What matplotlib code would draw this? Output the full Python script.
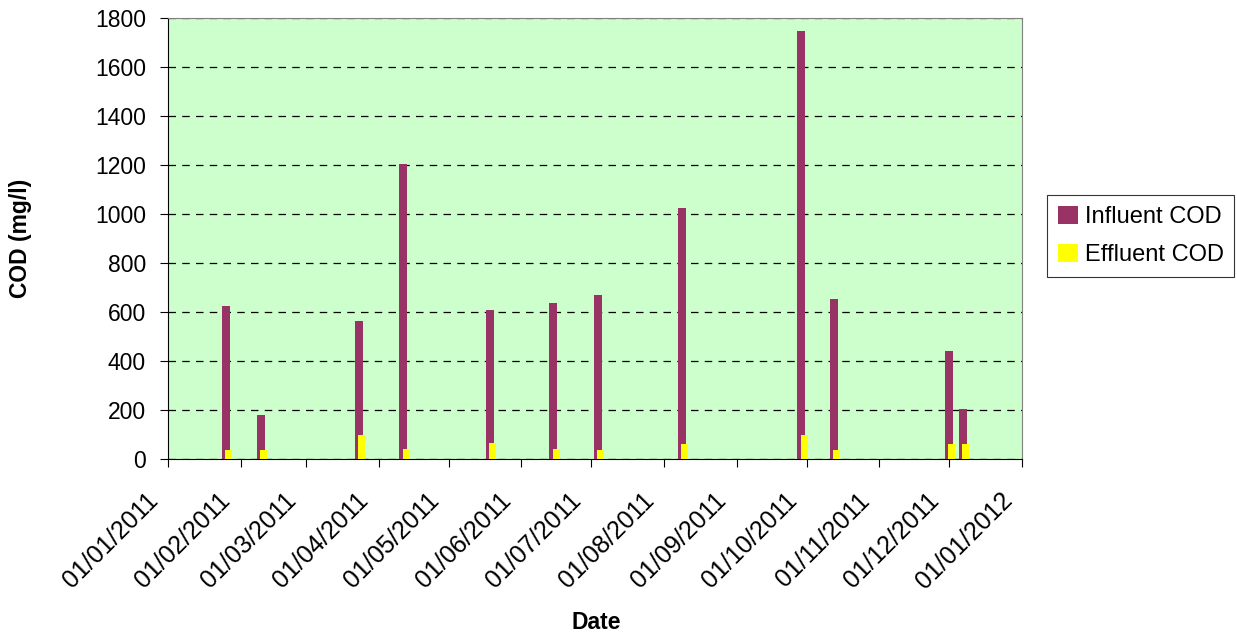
import datetime as dt

import matplotlib
matplotlib.use('Agg')
import matplotlib.pyplot as plt
import matplotlib.dates as mdates
from matplotlib.ticker import MultipleLocator
from matplotlib.transforms import ScaledTranslation

plt.rcParams['font.family'] = ['Liberation Sans', 'DejaVu Sans']

# sampling dates and COD values (mg/l)
dates = ['2011-01-26', '2011-02-10', '2011-03-24', '2011-04-12',
         '2011-05-19', '2011-06-15', '2011-07-04', '2011-08-09',
         '2011-09-29', '2011-10-13', '2011-12-01', '2011-12-07']
influent = [625, 180, 562, 1205, 610, 635, 668, 1025, 1745, 652, 440, 203]
effluent = [35, 35, 100, 42, 65, 42, 35, 60, 100, 35, 60, 60]

x_start = '2011-01-01'
x_end = '2012-01-01'


def main():
    d = [dt.datetime.strptime(s, '%Y-%m-%d') for s in dates]
    x = mdates.date2num(d)

    fig = plt.figure(figsize=(12.37, 6.36), dpi=100)
    ax = fig.add_axes([0.1358, 0.2783, 0.6904, 0.6934])
    ax.set_facecolor('#CCFFCC')

    ax.bar(x - 0.4, influent, width=3.4, color='#993366', label='Influent COD', zorder=3)
    ax.bar(x + 0.9, effluent, width=3.0, color='#FFFF00', label='Effluent COD', zorder=4)

    ax.set_xlim(mdates.datestr2num(x_start), mdates.datestr2num(x_end))
    ax.set_ylim(0, 1800)
    ax.yaxis.set_major_locator(MultipleLocator(200))
    ax.xaxis.set_major_locator(mdates.MonthLocator())
    ax.xaxis.set_major_formatter(mdates.DateFormatter('%d/%m/%Y'))

    ax.grid(axis='y', color='black', linestyle=(0, (6, 5)), linewidth=0.9, zorder=1)
    ax.tick_params(axis='both', direction='out', length=6, width=0.8, colors='black')
    ax.tick_params(axis='y', labelsize=16.5, pad=10)
    ax.tick_params(axis='x', labelsize=18, pad=15)
    shift = ScaledTranslation(-16 / 72, 0, fig.dpi_scale_trans)
    for lbl in ax.get_xticklabels():
        lbl.set_rotation(45)
        lbl.set_ha('right')
        lbl.set_rotation_mode('anchor')
        lbl.set_transform(lbl.get_transform() + shift)

    for side in ('top', 'right'):
        ax.spines[side].set_color('#808080')
    for side in ('left', 'bottom'):
        ax.spines[side].set_color('black')

    ax.set_ylabel('COD (mg/l)', fontsize=16.5, fontweight='bold')
    ax.yaxis.set_label_coords(-0.159, 0.5)
    ax.set_xlabel('Date', fontsize=16.5, fontweight='bold')
    ax.xaxis.set_label_coords(0.502, -0.345)

    leg = ax.legend(loc='upper left', bbox_to_anchor=(0.8464, 0.6934),
                    bbox_transform=fig.transFigure, borderaxespad=0, fontsize=17,
                    frameon=True, fancybox=False, edgecolor='black', handlelength=0.85,
                    handleheight=0.85, handletextpad=0.3, borderpad=0.45, labelspacing=0.65)
    leg.get_frame().set_linewidth(0.8)

    fig.savefig('out.png', dpi=100)


if __name__ == '__main__':
    main()
